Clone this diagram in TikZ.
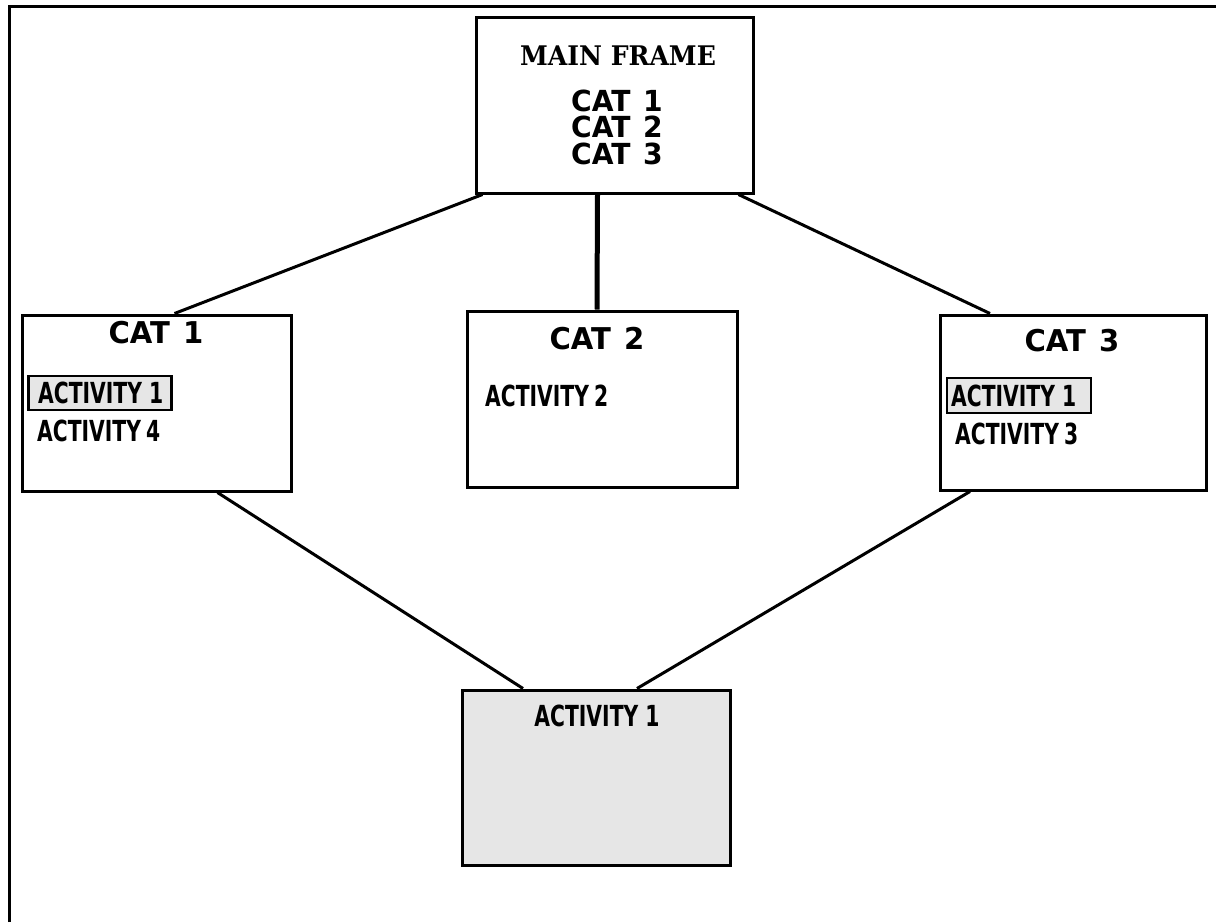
\documentclass[tikz,border=0pt]{standalone}
\usepackage{fontspec}
\usepackage{graphicx}
\setmainfont{DejaVu Sans}
\newfontfamily\slabfont{DejaVu Serif}
\usetikzlibrary{calc}
\definecolor{boxgray}{HTML}{E6E6E6}
\tikzset{
  catbox/.style={draw=black, line width=3pt, rectangle, inner sep=0pt},
  conn/.style={draw=black, line width=3pt},
  thickconn/.style={draw=black, line width=5pt},
  bigtxt/.style={font=\fontsize{30}{27}\selectfont\bfseries, inner sep=0pt, anchor=base},
  mftxt/.style={font=\fontsize{29}{26}\selectfont\bfseries, inner sep=0pt, anchor=base},
  acttxt/.style={font=\fontsize{29}{27}\selectfont\bfseries, inner sep=0pt},
  hl/.style={draw=black, line width=2.5pt, fill=boxgray, inner sep=0pt, rectangle},
}
\newcommand{\narrow}[1]{\scalebox{0.70}[1]{#1}}
\newcommand{\catnarrow}[1]{\scalebox{0.97}[1]{#1}}
\begin{document}
\begin{tikzpicture}[x=1pt,y=-1pt]
\useasboundingbox (0,0) rectangle (1216,922);
% outer frame (top and left only)
\draw[line width=3pt] (9,922) -- (9,6) -- (1216,6);

% boxes
\node[catbox, minimum width=277pt, minimum height=176pt] (main) at (614.5,105) {};
\node[catbox, minimum width=269pt, minimum height=176pt] (cat1) at (156.5,403) {};
\node[catbox, minimum width=270pt, minimum height=176pt] (cat2) at (602,399) {};
\node[catbox, minimum width=266pt, minimum height=175pt] (cat3) at (1073,402.5) {};
\node[catbox, fill=boxgray, minimum width=268pt, minimum height=175pt] (act) at (596,777.5) {};

% main frame texts
\node[inner sep=0pt, anchor=base, font=\fontsize{27}{27}\slabfont\bfseries] (mftitle) at (618,65) {\scalebox{0.93}[1]{MAIN FRAME}};
\node[mftxt] (mc1) at (617,111) {\catnarrow{CAT\hspace{0.45em}1}};
\node[mftxt] (mc2) at (617,137.5) {\catnarrow{CAT\hspace{0.45em}2}};
\node[mftxt] (mc3) at (617,164) {\catnarrow{CAT\hspace{0.45em}3}};

% CAT 1
\node[bigtxt] (c1t) at (156,343) {\catnarrow{CAT\hspace{0.45em}1}};
\node[hl, minimum width=143pt, minimum height=34pt] (c1h) at (100,393) {};
\node[acttxt, anchor=west] (c1a1) at (38,393) {\narrow{ACTIVITY\hspace{0.35em}1}};
\node[acttxt, anchor=west] (c1a4) at (37,431) {\narrow{ACTIVITY\hspace{0.25em}4}};

% CAT 2
\node[bigtxt] (c2t) at (597,349) {\catnarrow{CAT\hspace{0.45em}2}};
\node[acttxt, anchor=west] (c2a2) at (485,396) {\narrow{ACTIVITY\hspace{0.25em}2}};

% CAT 3
\node[bigtxt] (c3t) at (1072,351) {\catnarrow{CAT\hspace{0.45em}3}};
\node[hl, minimum width=144pt, minimum height=35pt] (c3h) at (1019,395.5) {};
\node[acttxt, anchor=west] (c3a1) at (951,396) {\narrow{ACTIVITY\hspace{0.35em}1}};
\node[acttxt, anchor=west] (c3a3) at (955,434) {\narrow{ACTIVITY\hspace{0.25em}3}};

% bottom box
\node[acttxt] (acta) at (597,716) {\narrow{ACTIVITY\hspace{0.35em}1}};

% connectors
\draw[conn] ($(main.south west)+(8,0)$) -- ($(cat1.north)+(18,0)$);
\draw[thickconn] ($(main.south)+(-17,0)$) -- ($(cat2.north)+(-5,0)$);
\draw[conn] ($(main.south east)+(-16,0)$) -- ($(cat3.north)+(-83,0)$);
\draw[conn] ($(cat1.south)+(61,0)$) -- ($(act.north)+(-73,0)$);
\draw[conn] ($(cat3.south)+(-103,0)$) -- ($(act.north)+(41,0)$);
\end{tikzpicture}
\end{document}
